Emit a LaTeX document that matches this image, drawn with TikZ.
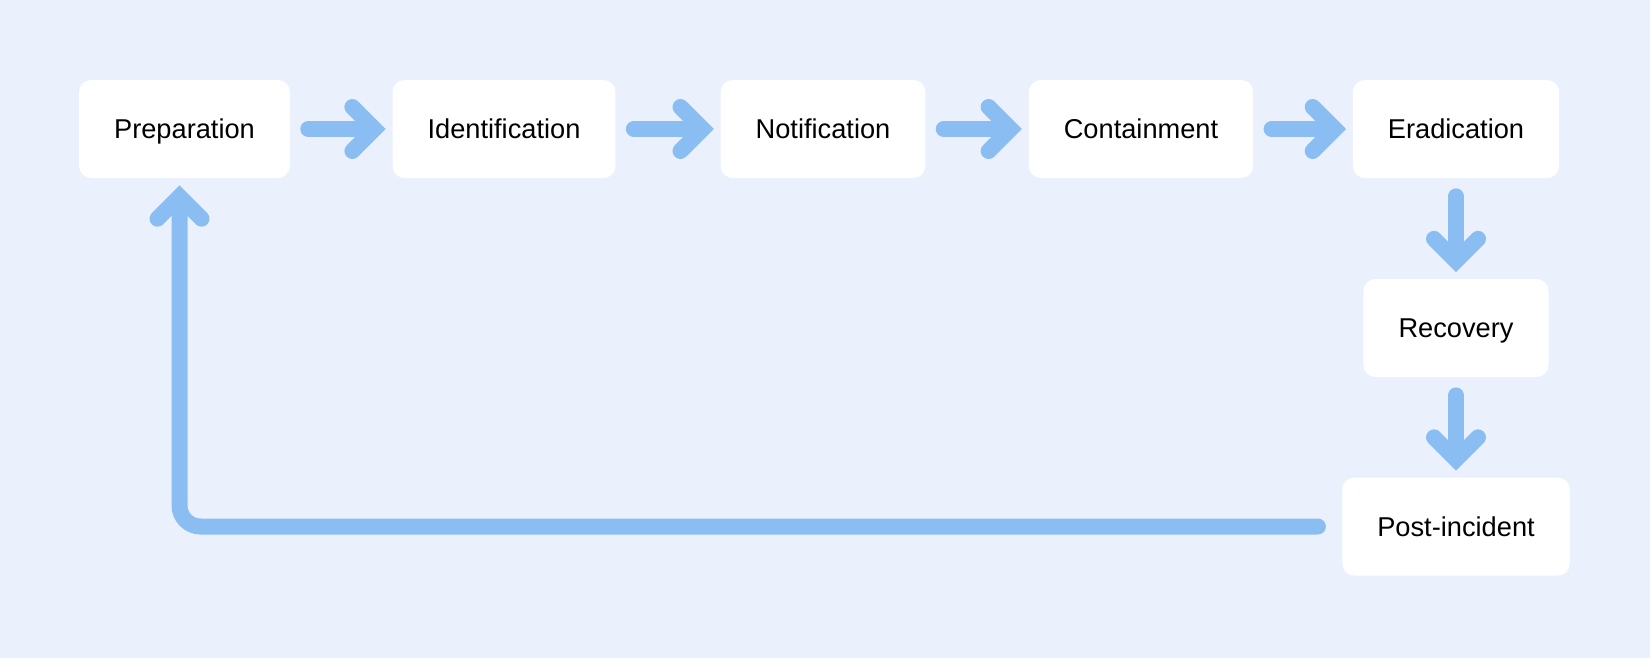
\documentclass[tikz,border=0pt]{standalone}
\usepackage{fontspec}
\setmainfont{Liberation Sans}
\usetikzlibrary{arrows.meta,positioning}
\definecolor{bgblue}{RGB}{234,241,253}
\definecolor{flowblue}{RGB}{138,190,242}

\begin{document}
\begin{tikzpicture}[
	stage/.style={fill=white, rounded corners=0.24cm, minimum height=1.96cm,
		inner xsep=0.7cm, text height=11pt, text depth=0pt,
		font=\fontsize{15.5}{18}\selectfont},
	flow/.style={draw=flowblue, line width=0.32cm, line cap=round,
		-{Straight Barb[length=0.44cm, width=0.88cm, line cap=round, line join=miter]},
		shorten <=0.36cm, shorten >=0.13cm}
]

	\fill[bgblue] (0,0) rectangle (33,-13.16);
	\useasboundingbox (0,0) rectangle (33,-13.16);

	\node[stage] (prep) at (3.69,-2.58) {Preparation};
	\node[stage] (ident) at (10.08,-2.58) {Identification};
	\node[stage] (notif) at (16.46,-2.58) {Notification};
	\node[stage] (cont) at (22.82,-2.58) {Containment};
	\node[stage] (erad) at (29.12,-2.58) {Eradication};
	\node[stage] (recov) at (29.12,-6.56) {Recovery};
	\node[stage] (post) at (29.12,-10.53) {Post-incident};

	\draw[flow] (prep) -- (ident);
	\draw[flow] (ident) -- (notif);
	\draw[flow] (notif) -- (cont);
	\draw[flow] (cont) -- (erad);
	\draw[flow] (erad) -- (recov);
	\draw[flow] (recov) -- (post);
	\draw[flow, rounded corners=0.42cm, shorten <=0.48cm, shorten >=0.14cm]
		(post.west) -| ([xshift=-0.1cm]prep.south);

\end{tikzpicture}
\end{document}
